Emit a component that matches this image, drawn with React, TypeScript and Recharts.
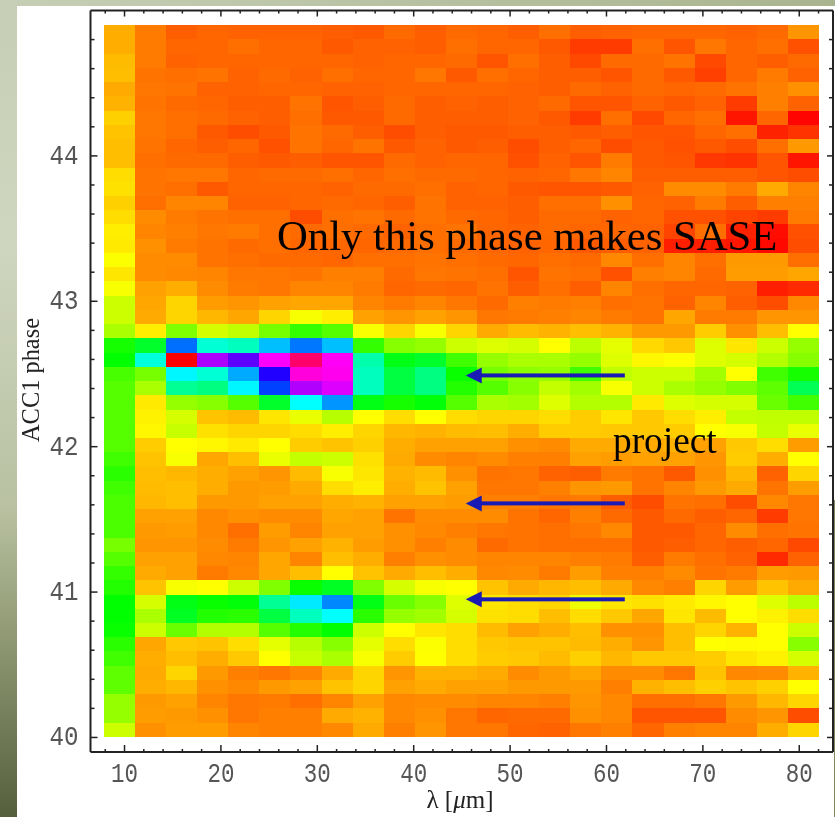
import React from 'react';
import { ScatterChart, Scatter, XAxis, YAxis } from 'recharts';

const WIDTH = 835;
const HEIGHT = 817;
const MARGIN = { top: 9.5, right: 1, left: 0, bottom: 0 };
const AXIS_LEFT = 90.5;
const AXIS_BOTTOM = 65;
const AXIS_FAR = 1;

const X_DOMAIN: [number, number] = [6.47, 83.5];
const Y_DOMAIN: [number, number] = [39.9, 45];

const PX_X = (WIDTH - MARGIN.right - AXIS_FAR - AXIS_LEFT) / (X_DOMAIN[1] - X_DOMAIN[0]);
const PX_Y = (HEIGHT - MARGIN.top - AXIS_FAR - AXIS_BOTTOM) / (Y_DOMAIN[1] - Y_DOMAIN[0]);

const CELL_W = 3.225;
const CELL_H = 0.0979;

const xTicks = [8, 10, 12, 14, 16, 18, 20, 22, 24, 26, 28, 30, 32, 34, 36, 38, 40, 42, 44, 46, 48, 50, 52, 54, 56, 58, 60, 62, 64, 66, 68, 70, 72, 74, 76, 78, 80, 82];
const yTicks = [40, 40.2, 40.4, 40.6, 40.8, 41, 41.2, 41.4, 41.6, 41.8, 42, 42.2, 42.4, 42.6, 42.8, 43, 43.2, 43.4, 43.6, 43.8, 44, 44.2, 44.4, 44.6, 44.8];

// wavelength at the centre of each column
const lambdaCentres = [9.48, 12.71, 15.93, 19.16, 22.38, 25.61, 28.83, 32.06, 35.28, 38.51, 41.73, 44.96, 48.18, 51.41, 54.63, 57.86, 61.08, 64.31, 67.53, 70.76, 73.98, 77.21, 80.43];

// phase at the top row first, hue in degrees per cell (0 red, 60 yellow, 120 green, 180 cyan, 240 blue, 300 magenta, 360 red)
const phaseTop = 44.85;
const hueRows: number[][] = [
  [41, 29, 22, 24, 23, 23, 23, 22, 21, 25, 22, 25, 24, 22, 26, 22, 23, 24, 24, 24, 23, 25, 35],
  [41, 29, 24, 24, 26, 24, 24, 21, 23, 23, 22, 26, 24, 24, 21, 14, 14, 26, 20, 28, 24, 26, 19],
  [44, 29, 23, 24, 24, 24, 24, 24, 23, 24, 24, 25, 20, 26, 22, 17, 25, 25, 27, 17, 24, 22, 25],
  [45, 27, 26, 27, 23, 25, 23, 26, 24, 24, 28, 21, 26, 24, 22, 22, 20, 25, 21, 15, 24, 29, 23],
  [40, 28, 27, 23, 23, 24, 24, 23, 23, 24, 24, 24, 24, 23, 22, 25, 23, 25, 24, 25, 27, 30, 34],
  [42, 27, 25, 24, 22, 22, 27, 20, 22, 25, 22, 23, 22, 23, 25, 20, 20, 23, 21, 23, 14, 30, 23],
  [49, 28, 26, 25, 23, 22, 26, 21, 21, 25, 22, 22, 22, 23, 21, 14, 26, 17, 24, 26, 5, 24, 1],
  [46, 28, 26, 21, 18, 21, 27, 25, 22, 18, 22, 21, 21, 22, 22, 21, 22, 20, 20, 24, 26, 8, 12],
  [45, 27, 24, 22, 24, 19, 27, 24, 27, 21, 23, 21, 22, 18, 22, 24, 18, 21, 19, 21, 18, 26, 36],
  [45, 26, 25, 25, 22, 21, 22, 20, 20, 25, 23, 24, 24, 19, 23, 20, 29, 21, 20, 13, 12, 20, 5],
  [52, 27, 28, 28, 24, 25, 25, 26, 24, 26, 25, 25, 24, 23, 24, 28, 31, 22, 22, 22, 22, 20, 18],
  [53, 27, 26, 21, 24, 24, 24, 23, 25, 25, 26, 23, 24, 21, 20, 20, 21, 23, 33, 33, 29, 40, 31],
  [49, 26, 31, 31, 23, 23, 24, 25, 24, 22, 27, 23, 23, 22, 26, 26, 34, 24, 23, 29, 22, 30, 30],
  [52, 33, 29, 27, 26, 26, 18, 26, 27, 25, 27, 25, 24, 22, 25, 25, 23, 24, 19, 19, 16, 14, 29],
  [56, 31, 30, 28, 29, 26, 25, 26, 25, 23, 26, 27, 24, 23, 25, 24, 24, 23, 16, 26, 8, 3, 19],
  [55, 34, 29, 27, 25, 26, 24, 24, 24, 25, 26, 25, 24, 23, 24, 21, 22, 23, 7, 7, 5, 2, 18],
  [61, 33, 33, 27, 26, 25, 25, 24, 26, 26, 27, 26, 25, 24, 26, 25, 32, 26, 31, 26, 36, 36, 26],
  [54, 33, 32, 31, 28, 28, 27, 30, 30, 25, 28, 27, 26, 20, 27, 26, 19, 30, 31, 25, 37, 37, 39],
  [62, 38, 41, 33, 29, 28, 31, 31, 29, 24, 25, 24, 27, 22, 26, 22, 31, 26, 24, 24, 23, 7, 10],
  [72, 39, 50, 37, 35, 38, 39, 39, 31, 29, 31, 28, 25, 30, 29, 30, 26, 27, 23, 31, 22, 18, 32],
  [72, 40, 50, 43, 39, 50, 62, 56, 38, 35, 38, 35, 28, 29, 30, 31, 29, 27, 39, 29, 29, 35, 35],
  [80, 56, 90, 70, 75, 92, 108, 100, 62, 50, 62, 50, 40, 44, 42, 45, 42, 36, 36, 48, 34, 45, 60],
  [115, 130, 214, 170, 165, 195, 212, 195, 108, 88, 85, 72, 68, 70, 60, 76, 66, 51, 47, 68, 54, 72, 85],
  [120, 172, 360, 280, 262, 300, 335, 302, 160, 125, 130, 105, 85, 80, 80, 85, 68, 58, 60, 68, 70, 78, 88],
  [103, 92, 182, 170, 200, 248, 308, 304, 165, 135, 150, 118, 92, 87, 85, 105, 75, 72, 72, 82, 60, 105, 115],
  [100, 80, 155, 150, 182, 225, 282, 292, 165, 135, 150, 112, 100, 88, 74, 82, 62, 72, 80, 85, 90, 98, 140],
  [100, 55, 85, 88, 100, 130, 180, 205, 125, 115, 122, 100, 80, 82, 68, 78, 78, 55, 68, 70, 70, 95, 105],
  [100, 57, 70, 46, 44, 54, 65, 77, 60, 52, 60, 52, 50, 50, 52, 48, 54, 47, 52, 56, 74, 75, 75],
  [100, 58, 73, 53, 50, 50, 52, 56, 50, 43, 42, 44, 45, 41, 48, 48, 47, 47, 48, 60, 62, 74, 65],
  [100, 48, 60, 58, 55, 60, 48, 46, 49, 41, 38, 38, 38, 34, 33, 40, 40, 40, 42, 38, 47, 52, 37],
  [105, 46, 62, 39, 45, 65, 74, 72, 53, 40, 33, 31, 33, 30, 30, 38, 37, 38, 38, 35, 48, 41, 60],
  [110, 45, 43, 41, 38, 35, 44, 62, 54, 42, 44, 34, 27, 28, 23, 22, 29, 27, 21, 34, 43, 23, 50],
  [105, 44, 45, 41, 36, 37, 40, 52, 56, 41, 46, 38, 28, 28, 30, 35, 36, 27, 31, 36, 40, 27, 37],
  [102, 43, 45, 36, 36, 38, 38, 41, 42, 38, 38, 37, 30, 30, 28, 29, 22, 18, 27, 26, 18, 32, 28],
  [102, 38, 38, 32, 34, 33, 33, 39, 38, 27, 33, 33, 33, 27, 24, 30, 25, 21, 25, 22, 24, 14, 28],
  [102, 36, 37, 32, 26, 37, 31, 38, 38, 34, 32, 30, 28, 27, 26, 28, 32, 21, 21, 24, 33, 26, 27],
  [92, 35, 35, 33, 29, 35, 38, 42, 37, 34, 30, 33, 25, 27, 26, 26, 26, 21, 22, 24, 22, 24, 17],
  [100, 38, 38, 32, 31, 39, 31, 45, 41, 30, 34, 33, 31, 31, 31, 30, 29, 22, 29, 26, 23, 10, 23],
  [108, 40, 38, 29, 32, 39, 45, 60, 46, 40, 45, 41, 32, 33, 29, 37, 30, 30, 33, 27, 29, 37, 36],
  [112, 46, 62, 60, 72, 90, 118, 128, 90, 70, 62, 60, 46, 40, 43, 45, 40, 32, 30, 50, 37, 46, 40],
  [120, 70, 125, 118, 122, 155, 185, 208, 125, 95, 88, 68, 54, 52, 50, 64, 54, 53, 55, 58, 60, 68, 76],
  [120, 80, 128, 112, 110, 135, 165, 180, 110, 85, 82, 70, 53, 52, 45, 52, 47, 39, 54, 44, 60, 57, 52],
  [118, 72, 95, 78, 78, 100, 112, 120, 72, 60, 54, 52, 44, 38, 41, 45, 34, 34, 45, 50, 42, 60, 72],
  [110, 39, 47, 46, 52, 66, 77, 88, 66, 52, 61, 52, 47, 46, 46, 44, 41, 35, 45, 60, 59, 60, 88],
  [105, 41, 45, 41, 47, 60, 73, 80, 62, 48, 60, 52, 48, 47, 44, 49, 43, 47, 47, 48, 54, 57, 70],
  [98, 40, 50, 36, 30, 28, 31, 40, 50, 35, 42, 42, 40, 33, 36, 39, 33, 33, 28, 46, 32, 33, 42],
  [98, 41, 43, 34, 32, 36, 38, 46, 50, 38, 40, 38, 38, 36, 36, 36, 30, 42, 45, 49, 46, 49, 60],
  [85, 36, 38, 31, 28, 29, 26, 31, 38, 32, 33, 33, 31, 31, 30, 35, 32, 26, 26, 28, 36, 43, 50],
  [85, 37, 36, 34, 28, 30, 30, 40, 42, 32, 34, 28, 24, 25, 25, 34, 32, 20, 20, 20, 33, 35, 18],
  [72, 34, 37, 37, 31, 30, 30, 32, 40, 30, 35, 28, 28, 24, 23, 28, 30, 24, 30, 31, 31, 41, 50],
];

const cells = hueRows.flatMap((row, r) =>
  row.map((hue, c) => ({ x: lambdaCentres[c], y: phaseTop - r * CELL_H, hue })),
);

// arrow tips and where their shafts end
const arrows = [
  { x: 45.4, y: 42.49, tail: 61.9 },
  { x: 45.4, y: 41.61, tail: 61.9 },
  { x: 45.4, y: 40.95, tail: 61.9 },
];

// text written over the map, anchored at its baseline start
const notes = [
  { x: 25.82, y: 43.35, label: 'Only this phase makes SASE', size: 42.7 },
  { x: 60.67, y: 41.955, label: 'project', size: 37.4 },
];

const HeatCell = ({ cx, cy, payload }: any) => {
  const w = CELL_W * PX_X;
  const h = CELL_H * PX_Y;
  return (
    <rect
      x={cx - w / 2}
      y={cy - h / 2}
      width={w + 0.5}
      height={h + 0.5}
      fill={`hsl(${payload.hue}, 100%, 50%)`}
      shapeRendering="crispEdges"
    />
  );
};

const Arrow = ({ cx, cy, payload }: any) => {
  const len = (payload.tail - payload.x) * PX_X;
  return (
    <g fill="#1a1ab4">
      <rect x={cx + 12} y={cy - 2} width={len - 12} height={4} />
      <path d={`M${cx} ${cy} L${cx + 16} ${cy - 8} L${cx + 16} ${cy + 8} Z`} />
    </g>
  );
};

const Note = ({ cx, cy, payload }: any) => (
  <text x={cx} y={cy} fontFamily="Liberation Serif" fontSize={payload.size} fill="#000">
    {payload.label}
  </text>
);

const isMajor = (v: number, step: number) => Math.abs(v / step - Math.round(v / step)) < 1e-6;

const tickFont = { fontFamily: 'Liberation Mono', fontSize: 27, fill: '#555' };

const BottomTick = ({ x, y, payload }: any) => {
  const major = isMajor(payload.value, 10);
  return (
    <g>
      <line x1={x} x2={x} y1={y} y2={y - (major ? 7 : 3)} stroke="#222" strokeWidth={1.5} />
      {major && (
        <text x={x} y={y + 29.5} textAnchor="middle" textLength={27} lengthAdjust="spacingAndGlyphs" {...tickFont}>
          {payload.value}
        </text>
      )}
    </g>
  );
};

const TopTick = ({ x, y, payload }: any) => (
  <line x1={x} x2={x} y1={y} y2={y + (isMajor(payload.value, 10) ? 6 : 3)} stroke="#222" strokeWidth={1.5} />
);

const LeftTick = ({ x, y, payload }: any) => {
  const major = isMajor(payload.value, 1);
  return (
    <g>
      <line x1={x} x2={x + (major ? 7 : 4)} y1={y} y2={y} stroke="#222" strokeWidth={1.5} />
      {major && (
        <text x={x - 12} y={y + 8} textAnchor="end" textLength={29} lengthAdjust="spacingAndGlyphs" {...tickFont}>
          {payload.value}
        </text>
      )}
    </g>
  );
};

const RightTick = ({ x, y, payload }: any) => (
  <line x1={x} x2={x - (isMajor(payload.value, 1) ? 6 : 4)} y1={y} y2={y} stroke="#222" strokeWidth={1.5} />
);

const App = () => (
  <div
    style={{
      position: 'fixed',
      left: 0,
      top: 0,
      width: WIDTH,
      height: HEIGHT,
      overflow: 'hidden',
      background: 'white',
    }}
  >
    <div style={{ position: 'absolute', left: 0, top: 0, width: WIDTH, height: 6, background: 'linear-gradient(to right, #c6cfb5, #a9b48f)' }} />
    <div
      style={{
        position: 'absolute',
        left: 0,
        top: 0,
        width: 17,
        height: HEIGHT,
        background: 'linear-gradient(to bottom, #c6cfb5 0%, #cfd6bf 30%, #b9c1a2 62%, #9aa37e 74%, #565f3c 100%)',
      }}
    />
    <div style={{ position: 'absolute', left: 834, top: 500, width: 1, height: 317, background: '#7f8a60' }} />
    <div style={{ position: 'absolute', left: 0, top: 0, filter: 'blur(0.4px)' }}>
      <ScatterChart width={WIDTH} height={HEIGHT} margin={MARGIN}>
        <XAxis
          type="number"
          dataKey="x"
          xAxisId="bottom"
          domain={X_DOMAIN}
          ticks={xTicks}
          interval={0}
          height={AXIS_BOTTOM}
          tickSize={0}
          tickMargin={0}
          tickLine={false}
          tick={<BottomTick />}
          axisLine={{ stroke: '#222', strokeWidth: 2 }}
          allowDataOverflow
        />
        <XAxis
          type="number"
          dataKey="x"
          xAxisId="top"
          orientation="top"
          domain={X_DOMAIN}
          ticks={xTicks}
          interval={0}
          height={AXIS_FAR}
          tickSize={0}
          tickMargin={0}
          tickLine={false}
          tick={<TopTick />}
          axisLine={{ stroke: '#222', strokeWidth: 2 }}
          allowDataOverflow
        />
        <YAxis
          type="number"
          dataKey="y"
          yAxisId="left"
          domain={Y_DOMAIN}
          ticks={yTicks}
          interval={0}
          width={AXIS_LEFT}
          tickSize={0}
          tickMargin={0}
          tickLine={false}
          tick={<LeftTick />}
          axisLine={{ stroke: '#222', strokeWidth: 2 }}
          allowDataOverflow
        />
        <YAxis
          type="number"
          dataKey="y"
          yAxisId="right"
          orientation="right"
          domain={Y_DOMAIN}
          ticks={yTicks}
          interval={0}
          width={AXIS_FAR}
          tickSize={0}
          tickMargin={0}
          tickLine={false}
          tick={<RightTick />}
          axisLine={{ stroke: '#222', strokeWidth: 2 }}
          allowDataOverflow
        />
        <Scatter data={cells} xAxisId="bottom" yAxisId="left" shape={<HeatCell />} isAnimationActive={false} />
        <Scatter data={arrows} xAxisId="bottom" yAxisId="left" shape={<Arrow />} isAnimationActive={false} />
        <Scatter data={notes} xAxisId="bottom" yAxisId="left" shape={<Note />} isAnimationActive={false} />
        <text
          transform="translate(39 380) rotate(-90)"
          textAnchor="middle"
          fontFamily="Liberation Serif"
          fontSize={24.4}
          textLength={124}
          fill="#222"
        >
          ACC1 phase
        </text>
        <text x={460} y={808} textAnchor="middle" fontFamily="Liberation Serif" fontSize={25} fill="#222">
          λ [<tspan fontStyle="italic">μ</tspan>m]
        </text>
      </ScatterChart>
    </div>
  </div>
);

export default App;
